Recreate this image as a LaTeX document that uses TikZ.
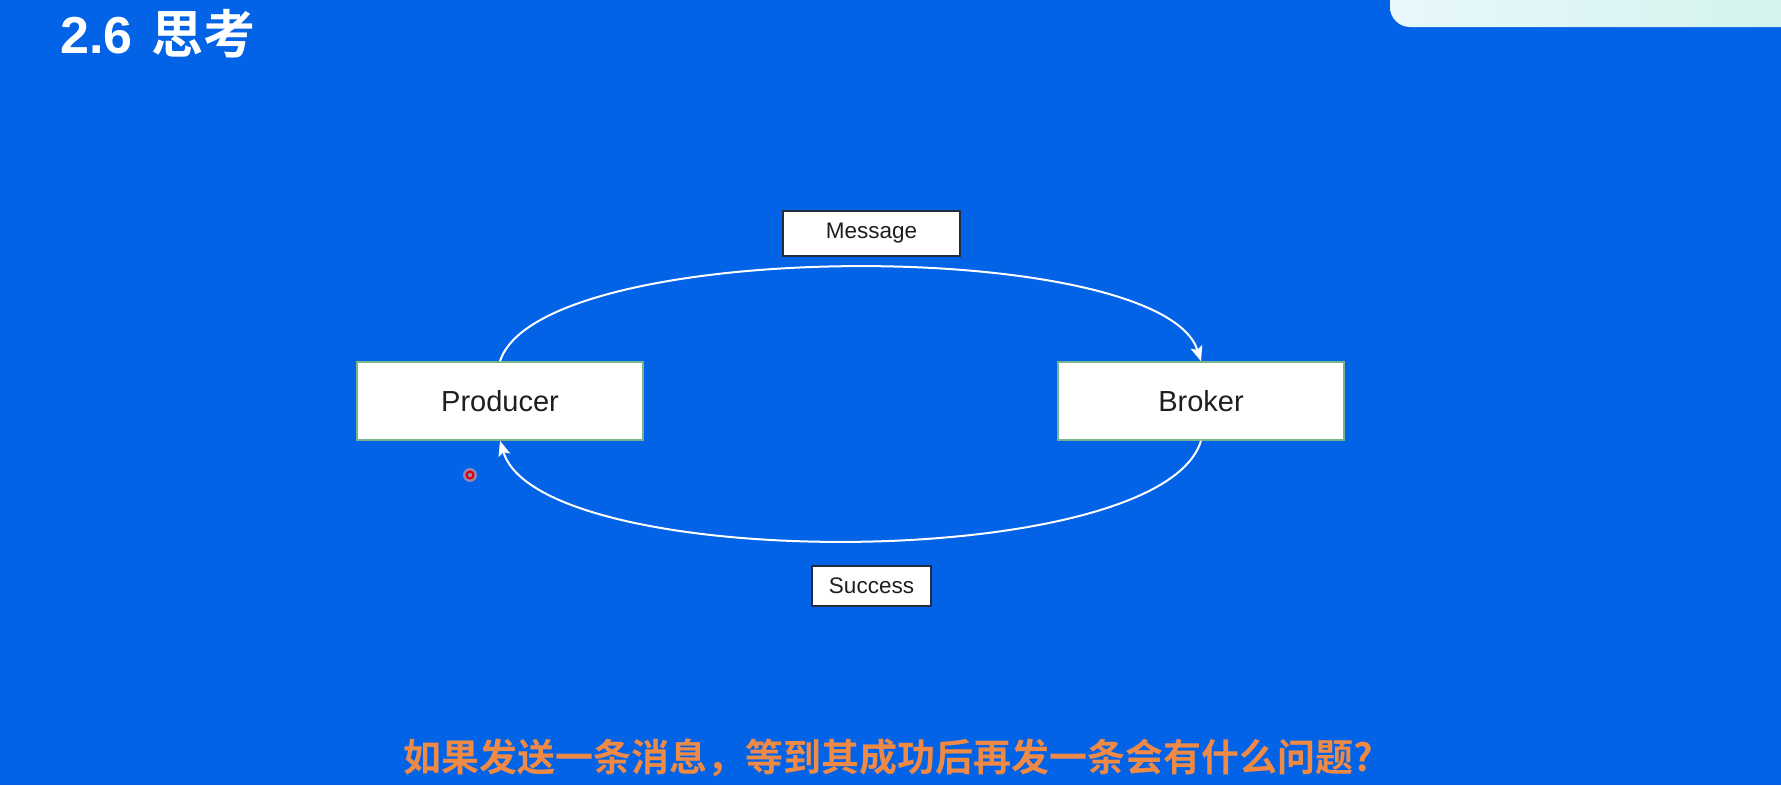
\documentclass[tikz,border=0pt]{standalone}
\usepackage{fontspec}
\setmainfont{Liberation Sans}
\newfontfamily\cjk[BoldFont={Noto Sans CJK SC Bold}]{Noto Sans CJK SC}
\usetikzlibrary{arrows.meta}
\definecolor{bg}{RGB}{2,99,230}
\definecolor{boxtext}{RGB}{30,30,30}
\definecolor{greenedge}{RGB}{120,180,140}
\definecolor{darkedge}{RGB}{35,45,65}
\definecolor{qorange}{RGB}{238,138,70}
\definecolor{panelL}{RGB}{232,248,252}
\definecolor{panelR}{RGB}{210,242,236}
\tikzset{
  bigbox/.style={draw=greenedge, line width=1.5pt, fill=white, inner sep=0pt,
    minimum width=286pt, minimum height=78pt, text=boxtext,
    font=\fontsize{29}{34}\selectfont},
  labelbox/.style={draw=darkedge, line width=1.5pt, fill=white, inner sep=0pt,
    minimum height=42pt, text=boxtext, font=\fontsize{22.5}{26}\selectfont},
  flow/.style={draw=white, line width=2pt, -{Stealth[length=15pt,width=12pt,inset=3pt]}}
}
\begin{document}
\begin{tikzpicture}[x=1pt,y=-1pt]
\fill[bg] (0,0) rectangle (1781,785);
\useasboundingbox (0,0) rectangle (1781,785);
% top-right panel
\shade[left color=panelL, right color=panelR, rounded corners=20pt]
  (1390,-40) rectangle (1820,27);
% title
\node[anchor=base west, inner sep=0pt, text=white,
  font=\fontsize{52}{60}\selectfont\bfseries] (title) at (60,53) {2.6\hspace{5pt} {\cjk 思考}};
% boxes
\node[bigbox] (prod) at (500,401) {Producer};
\node[bigbox] (brok) at (1201,401) {Broker};
\node[labelbox, minimum width=177pt, minimum height=45pt] (msg) at (871.5,233.5) {Message};
\node[labelbox, minimum width=119pt, minimum height=40pt] (succ) at (871.5,586) {Success};
% connectors
\draw[flow] (prod.north) .. controls +(40,-125) and +(-40,-125) .. (brok.north);
\draw[flow] (brok.south) .. controls +(-40,133) and +(40,133) .. (prod.south);
% cursor marker
\fill[red!40!white, opacity=0.6] (470,475) circle (7);
\draw[red!85!black, line width=2pt] (470,475) circle (3.5);
% question
\node[inner sep=0pt, text=qorange, font=\cjk\bfseries\fontsize{38}{44}\selectfont] (question) at (888,758)
  {如果发送一条消息，等到其成功后再发一条会有什么问题?};
\end{tikzpicture}
\end{document}
